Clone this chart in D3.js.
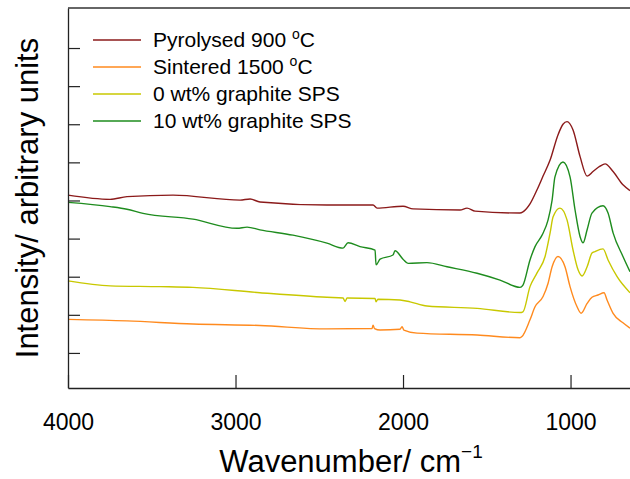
<!DOCTYPE html>
<html>
<head>
<meta charset="utf-8">
<script src="https://d3js.org/d3.v7.min.js"></script>
<style>
  body { margin: 0; background: #fff; }
  text { font-family: "Liberation Sans", Arial, Helvetica, sans-serif; fill: #000; }
</style>
</head>
<body>
<svg width="630" height="479"></svg>
<script>

// spectra: [wavenumber, intensity (arb.)]
var pyrolysed = [[4000,5.14],[3749,5.03],[3648,5.10],[3373,5.14],[2973,5.01],[2913,5.04],[2854,4.96],
  [2454,4.88],[2179,4.88],[2155,4.80],[2000,4.85],[1940,4.78],[1660,4.75],[1618,4.80],[1570,4.72],
  [1302,4.67],[1284,4.70],[1242,4.91],[1200,5.28],[1164,5.64],[1122,6.06],[1075,6.72],[1045,7.00],
  [1021,7.07],[985,6.85],[943,6.15],[901,5.64],[866,5.76],[824,5.90],[794,5.96],[746,5.76],[687,5.41],[645,5.26]];

var sintered = [[4000,1.88],[3648,1.84],[3254,1.76],[2854,1.72],[2454,1.63],[2185,1.64],[2179,1.73],
  [2170,1.64],[2137,1.60],[2018,1.62],[2006,1.69],[1995,1.60],[1916,1.52],[1558,1.47],[1302,1.40],
  [1290,1.43],[1242,1.87],[1212,2.21],[1164,2.48],[1134,2.83],[1110,3.26],[1075,3.53],[1033,3.26],
  [1003,2.74],[961,2.21],[937,2.04],[901,2.30],[872,2.46],[836,2.52],[800,2.58],[782,2.39],[746,2.04],
  [687,1.79],[645,1.65]];

var graphite0 = [[4000,2.89],[3749,2.76],[3451,2.74],[3254,2.72],[2854,2.58],[2454,2.46],[2358,2.44],
  [2346,2.35],[2334,2.44],[2167,2.43],[2161,2.34],[2150,2.41],[2018,2.39],[1958,2.34],[1857,2.23],
  [1558,2.17],[1302,2.06],[1284,2.08],[1242,2.74],[1200,3.10],[1152,3.53],[1122,4.15],[1104,4.57],
  [1063,4.80],[1021,4.49],[985,3.70],[955,3.18],[931,3.02],[901,3.26],[872,3.62],[854,3.66],[806,3.73],
  [776,3.44],[722,3.00],[645,2.58]];

var graphite10 = [[4000,4.95],[3749,4.84],[3648,4.77],[3552,4.66],[3254,4.51],[2991,4.27],[2931,4.30],
  [2854,4.23],[2657,4.09],[2454,3.88],[2358,3.75],[2328,3.89],[2257,3.79],[2167,3.70],[2161,3.31],
  [2137,3.46],[2060,3.57],[2048,3.68],[2000,3.46],[1970,3.35],[1857,3.37],[1737,3.26],[1558,3.09],
  [1421,2.91],[1302,2.72],[1284,2.78],[1242,3.44],[1212,3.79],[1170,4.09],[1134,4.49],[1110,5.01],
  [1093,5.62],[1045,6.01],[1003,5.62],[973,4.75],[943,4.05],[925,3.89],[901,4.23],[872,4.67],
  [806,4.86],[776,4.67],[746,4.15],[687,3.53],[645,3.13]];

var seriesNames = ["Pyrolysed 900 ", "Sintered 1500 ", "0 wt% graphite SPS", "10 wt% graphite SPS"];
var seriesColors = ["#8b1a1a", "#ff8a1e", "#c8c800", "#1e8c1e"];
var seriesData = [pyrolysed, sintered, graphite0, graphite10];
var xTicks = [4000, 3000, 2000, 1000];
var yTicks = [1, 2, 3, 4, 5, 6, 7, 8, 9];

var svg = d3.select("svg");
var L = 68, R = 630, T = 8, B = 388;

var x = d3.scaleLinear().domain([4000, 645]).range([L, R]);
var y = d3.scaleLinear().domain([0.08, 10.05]).range([B, T]);

// spectra
var line = d3.line().x(d => x(d[0])).y(d => y(d[1])).curve(d3.curveMonotoneX);
// draw order: back to front
[0, 2, 1, 3].forEach(function(i) {
  svg.append("path")
    .datum(seriesData[i])
    .attr("d", line)
    .attr("fill", "none")
    .attr("stroke", seriesColors[i])
    .attr("stroke-width", 1.4)
    .attr("stroke-linejoin", "round");
});

// axes (ticks pointing inward)
var xAxis = svg.append("g").attr("transform", "translate(0," + B + ")")
  .call(d3.axisBottom(x).tickValues(xTicks).tickFormat(d3.format("d"))
    .tickSizeInner(-13).tickSizeOuter(0).tickPadding(26));
xAxis.select(".domain").attr("stroke", "#222").attr("stroke-width", 1.3);
xAxis.selectAll("line").attr("stroke", "#222").attr("stroke-width", 1.2);
xAxis.selectAll("text").attr("font-size", 23).attr("font-family", null).attr("fill", null);

var yAxis = svg.append("g").attr("transform", "translate(" + L + ",0)")
  .call(d3.axisLeft(y).tickValues(yTicks).tickSizeInner(-12).tickSizeOuter(0).tickFormat(""));
yAxis.select(".domain").attr("stroke", "#222").attr("stroke-width", 1.3);
yAxis.selectAll("line").attr("stroke", "#222").attr("stroke-width", 1.2);

// top frame line
svg.append("line").attr("x1", L).attr("x2", R).attr("y1", T).attr("y2", T)
  .attr("stroke", "#333").attr("stroke-width", 1.5);

// axis titles
var xt = svg.append("text").attr("x", 351).attr("y", 472)
  .attr("text-anchor", "middle").attr("font-size", 31);
xt.append("tspan").text("Wavenumber/ cm");
xt.append("tspan").attr("font-size", 19).attr("dy", -14).text("\u22121");

svg.append("text")
  .attr("transform", "translate(38," + ((T + B) / 2) + ") rotate(-90)")
  .attr("text-anchor", "middle").attr("font-size", 31)
  .text("Intensity/ arbitrary units");

// legend
var leg = svg.append("g");
seriesNames.forEach(function(name, i) {
  var ly = 40 + 27 * i;
  leg.append("line").attr("x1", 93).attr("x2", 141).attr("y1", ly).attr("y2", ly)
    .attr("stroke", seriesColors[i]).attr("stroke-width", 1.4);
  var t = leg.append("text").attr("x", 153).attr("y", ly + 7).attr("font-size", 21);
  t.append("tspan").text(name);
  if (i < 2) {
    t.append("tspan").attr("font-size", 14).attr("dy", -8).text("o");
    t.append("tspan").attr("dy", 8).text("C");
  }
});
</script>
</body>
</html>
